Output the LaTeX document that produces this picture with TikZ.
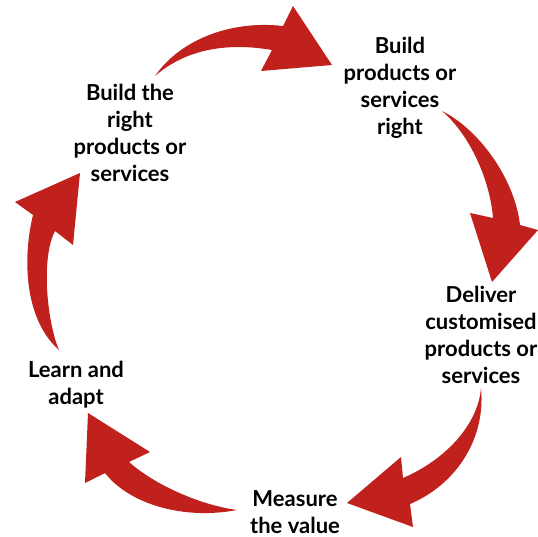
\documentclass[tikz,border=0pt]{standalone}
\usepackage{fontspec}
\setmainfont{Lato}
\definecolor{arrowred}{RGB}{193,33,29}
\tikzset{
  lbl/.style={align=center, inner sep=0pt, font=\fontsize{22}{27}\selectfont\bfseries, text=black},
  bigarrow/.style={fill=arrowred, draw=none}
}
\begin{document}
\begin{tikzpicture}[x=1pt,y=-1pt]
\useasboundingbox[fill=white] (0,0) rectangle (538,537);
% labels
\node[lbl] (right)   at (130,133) {Build the\\right\\products or\\services};
\node[lbl] (build)   at (400,88)  {Build\\products or\\services\\right};
\node[lbl] (deliver) at (481,335) {Deliver\\customised\\products or\\services};
\node[lbl] (measure) at (295,512) {Measure\\the value};
\node[lbl] (learn)   at (76,385)  {Learn and\\adapt};
% arrow 1 (top)
\fill[bigarrow] (155,76) .. controls (180,40) and (230,20) .. (283,26)
  -- (293,6) -- (332,65) -- (261,71) -- (272,50)
  .. controls (225,42) and (185,50) .. cycle;
% arrow 2 (upper right)
\fill[bigarrow] (442,111) .. controls (480,130) and (515,180) .. (520,225)
  -- (538,230) -- (492,282) -- (470,213) -- (493,218)
  .. controls (490,180) and (470,135) .. cycle;
% arrow 3 (lower right)
\fill[bigarrow] (481,388) .. controls (486,440) and (455,485) .. (410,504)
  -- (413,527) -- (347,503) -- (401,457) -- (403,478)
  .. controls (445,460) and (478,425) .. cycle;
% arrow 4 (bottom left)
\fill[bigarrow] (237,510) .. controls (200,505) and (155,485) .. (129,462)
  -- (150,452) -- (88,413) -- (85,483) -- (105,473)
  .. controls (130,505) and (185,520) .. cycle;
% arrow 5 (left)
\fill[bigarrow] (59,350) .. controls (48,325) and (40,260) .. (55,231)
  -- (73,245) -- (80,173) -- (15,202) -- (33,215)
  .. controls (22,260) and (25,320) .. cycle;
\end{tikzpicture}
\end{document}
